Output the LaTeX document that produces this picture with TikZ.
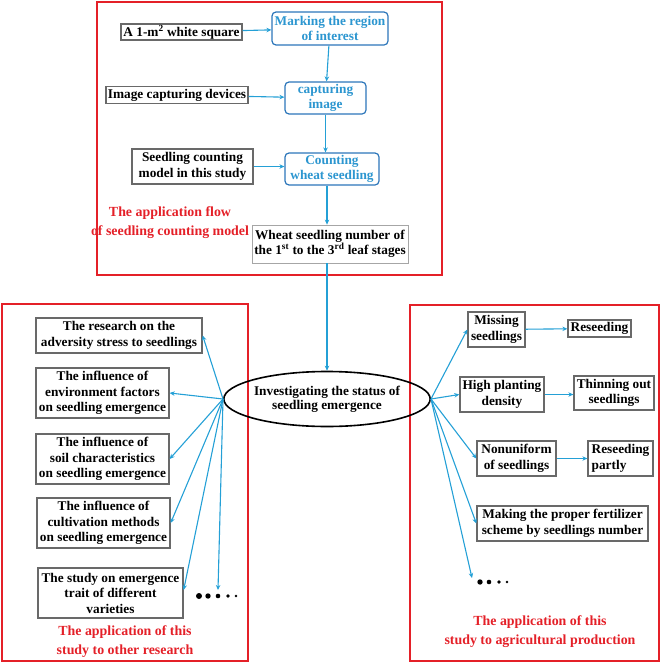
\documentclass[tikz,border=0pt]{standalone}
\usepackage{fontspec}
\setmainfont{Liberation Serif}
\usetikzlibrary{arrows.meta,shapes.geometric}
\definecolor{redc}{RGB}{228,32,40}
\definecolor{arr}{RGB}{36,160,214}
\definecolor{bluet}{RGB}{44,150,208}
\definecolor{blueb}{RGB}{44,118,186}
\definecolor{grayb}{RGB}{105,105,105}
\tikzset{
  frame/.style={draw=redc,line width=1.6pt},
  gbox/.style={draw=grayb,line width=1.3pt,fill=white,inner sep=1pt,align=center,
    font=\bfseries\fontsize{13.3}{15.5}\selectfont},
  bbox/.style={draw=blueb,line width=1.2pt,rounded corners=4pt,fill=white,inner sep=1pt,align=center,
    text=bluet,font=\bfseries\fontsize{13.3}{15.5}\selectfont},
  redlab/.style={text=redc,align=center,inner sep=0pt,font=\bfseries\fontsize{13.9}{19}\selectfont},
  conn/.style={draw=arr,line width=1.1pt,-{Stealth[length=5pt,width=4.5pt]}},
}
\begin{document}
\begin{tikzpicture}[x=1pt,y=-1pt]
\useasboundingbox (0,0) rectangle (661,664);
% frames
\draw[frame] (97,2) rectangle (442,275);
\draw[frame] (2,304) rectangle (248,661);
\draw[frame] (410,305) rectangle (659,661);
% top flow
\node[gbox,minimum width=121pt,minimum height=13pt] (sq) at (181.5,32) {A 1-m\textsuperscript{2} white square};
\node[bbox,minimum width=116pt,minimum height=33pt] (mark) at (330,28.5) {Marking the region\\of interest};
\node[gbox,minimum width=142pt,minimum height=17pt] (dev) at (177,95) {Image capturing devices};
\node[bbox,minimum width=81pt,minimum height=32pt] (cap) at (325.5,98) {capturing\\image};
\node[gbox,minimum width=121pt,minimum height=35pt] (mod) at (192.5,166.5) {Seedling counting\\model in this study};
\node[bbox,minimum width=94pt,minimum height=32pt] (cnt) at (332,169) {Counting\\wheat seedling};
\node[gbox,draw=gray!70,line width=0.8pt,minimum width=156pt,minimum height=38pt] (num) at (330,244) {Wheat seedling number of\\the 1\textsuperscript{st} to the 3\textsuperscript{rd} leaf stages};
\node[redlab] (lab1) at (170,223) {The application flow\\of seedling counting model};
\draw[conn] (sq) -- (mark);
\draw[conn] (dev) -- (cap);
\draw[conn] (mod.east) -- (mod.east -| cnt.west);
\draw[conn] (mark) -- (cap);
\draw[conn] (cap.south) -- (cap.south |- cnt.north);
\draw[conn] ([xshift=-3pt]num.north |- cnt.south) -- ([xshift=-3pt]num.north);
% ellipse
\node[ellipse,draw=black,line width=1.6pt,minimum width=180pt,minimum height=55pt,inner sep=0pt,align=center,
  font=\bfseries\fontsize{13.3}{14}\selectfont] (ell) at (327,399) {Investigating the status of\\seedling emergence};
\draw[conn] ([xshift=-3pt]num.south) -- (ell.north);
% left
\node[gbox,minimum width=166pt,minimum height=35pt] (l1) at (119,335.5) {The research on the\\adversity stress to seedlings};
\node[gbox,minimum width=133pt,minimum height=50pt] (l2) at (102.5,393) {The influence of\\environment factors\\on seedling emergence};
\node[gbox,minimum width=133pt,minimum height=50pt] (l3) at (102.5,459) {The influence of\\soil characteristics\\on seedling emergence};
\node[gbox,minimum width=133pt,minimum height=50pt] (l4) at (103.5,523) {The influence of\\cultivation methods\\on seedling emergence};
\node[gbox,minimum width=145pt,minimum height=50pt] (l5) at (110.5,593) {The study on emergence\\trait of different\\varieties};
\coordinate (ld) at (218,590);
\foreach \x/\r in {199/3.0,208/2.7,218/2.3,228/1.8,236/1.4} \fill (\x,596) circle (\r);
\node[redlab] (lab2) at (125,642) {The application of this\\study to other research};
\foreach \n in {l1,l2,l3,l4} \draw[conn] (ell.west) -- (\n.east);
\draw[conn] (ell.west) -- ([yshift=3pt]l5.east);
\draw[conn] (ell.west) -- (ld);
% right
\node[gbox,minimum width=57pt,minimum height=35pt] (r1) at (496.5,329.5) {Missing\\seedlings};
\node[gbox,minimum width=63pt,minimum height=17pt] (r1b) at (599.5,328.5) {Reseeding};
\node[gbox,minimum width=84pt,minimum height=35pt] (r2) at (502,394.5) {High planting\\density};
\node[gbox,minimum width=80pt,minimum height=34pt] (r2b) at (614,393) {Thinning out\\seedlings};
\node[gbox,minimum width=79pt,minimum height=35pt] (r3) at (516.5,458.5) {Nonuniform\\of seedlings};
\node[gbox,minimum width=65pt,minimum height=35pt,align=left] (r3b) at (620.5,458.5) {Reseeding\\partly};
\node[gbox,minimum width=171pt,minimum height=35pt] (r4) at (562.5,523.5) {Making the proper fertilizer\\scheme by seedlings number};
\coordinate (rd) at (472,578);
\foreach \x/\r in {480/2.7,489/2.3,499/1.8,507/1.3} \fill (\x,582) circle (\r);
\node[redlab] (lab3) at (540,632) {The application of this\\study to agricultural production};
\foreach \n in {r1,r2,r3,r4} \draw[conn] (ell.east) -- (\n.west);
\draw[conn] (ell.east) -- (rd);
\draw[conn] (r1) -- (r1b);
\draw[conn] (r2.east) -- (r2.east -| r2b.west);
\draw[conn] (r3) -- (r3b);
\end{tikzpicture}
\end{document}
